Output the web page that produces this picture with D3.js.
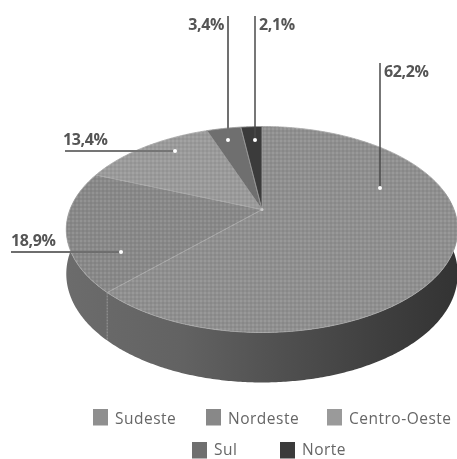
<!DOCTYPE html>
<html><head><meta charset="utf-8">
<script src="https://cdn.jsdelivr.net/npm/d3@7/dist/d3.min.js"></script>
<style>html,body{margin:0;background:#fff}svg{display:block;filter:blur(.75px)}text{font-family:"Open Sans",sans-serif}</style>
</head><body><svg id="c" width="457" height="459"></svg>
<script>
const categories=["Sudeste","Nordeste","Centro-Oeste","Sul","Norte"];
const shares=[62.2,18.9,13.4,3.4,2.1];
const labels=["62,2%","18,9%","13,4%","3,4%","2,1%"];
const colors=["#8f8f8f","#888888","#9a9a9a","#6f6f6f","#3b3b3b"];

const svg=d3.select("#c");
const cx=262,cy=209.5,b=192,a=99.1,k=-0.194;
// perspective projection of the unit disc, angle clockwise from top
const proj=(t,r=1)=>{const u=r*Math.sin(t),v=-r*Math.cos(t),w=1+k*v;return [cx+b*u/w,cy+a*v/w,v];};
const depth=v=>43+7*v;
const arcs=d3.pie().sort(null).value(d=>d)(shares);
const defs=svg.append("defs");
const g=defs.append("linearGradient").attr("id","side").attr("gradientUnits","userSpaceOnUse")
  .attr("x1",66).attr("x2",457).attr("y1",0).attr("y2",0);
[[0,"#6c6c6c"],[.3,"#626262"],[.55,"#505050"],[.8,"#3f3f3f"],[1,"#333"]].forEach(s=>g.append("stop").attr("offset",s[0]).attr("stop-color",s[1]));
const pat=defs.append("pattern").attr("id","tex").attr("width",4).attr("height",4).attr("patternUnits","userSpaceOnUse");
pat.append("circle").attr("cx",1).attr("cy",1).attr("r",.7).attr("fill","#fff").attr("opacity",.25);
pat.append("circle").attr("cx",3).attr("cy",3).attr("r",.7).attr("fill","#000").attr("opacity",.12);

const line=d3.line();
// side wall: front half of the rim
const tf=d3.range(Math.PI*0.44,Math.PI*1.57,0.01);
const topRim=tf.map(t=>proj(t));
const wall=[...topRim.map(p=>[p[0],p[1]]),...topRim.slice().reverse().map(p=>[p[0],p[1]+depth(p[2])])];
svg.append("path").attr("d",line(wall)+"Z").attr("fill","url(#side)");
// boundary edge on the wall
const e=proj(arcs[1].startAngle);
svg.append("line").attr("x1",e[0]).attr("x2",e[0]).attr("y1",e[1]).attr("y2",e[1]+depth(e[2]))
  .attr("stroke","#9a9a9a").attr("stroke-width",1).attr("stroke-dasharray","2 1");

// top face
const slice=d=>{const n=Math.ceil((d.endAngle-d.startAngle)/0.01);
  const pts=d3.range(n+1).map(i=>proj(d.startAngle+(d.endAngle-d.startAngle)*i/n).slice(0,2));
  return line([[cx,cy],...pts])+"Z";};
svg.append("g").selectAll("path").data(arcs).join("path").attr("d",slice)
  .attr("fill",(d,i)=>colors[i]).attr("stroke",(d,i)=>i<3?"#a8a8a8":"#999").attr("stroke-width",.9).attr("stroke-linejoin","round");
svg.append("g").selectAll("path").data(arcs.slice(0,3)).join("path").attr("d",slice).attr("fill","url(#tex)");

// leaders: dot, line end, label anchor
const leaders=[
 {dot:[380,188],end:[380,63],tx:384,ty:77,anchor:"start",stroke:"#4a4a4a",w:1.5},
 {dot:[121,252],end:[11,252],tx:11,ty:246,anchor:"start",stroke:"#6e6e6e",w:2},
 {dot:[175,151],end:[65,151],tx:63,ty:145,anchor:"start",stroke:"#757575",w:2},
 {dot:[228,140],end:[228,16],tx:224,ty:30,anchor:"end",stroke:"#707070",w:2},
 {dot:[255,140],end:[255,16],tx:259,ty:30,anchor:"start",stroke:"#4a4a4a",w:1.5}];
svg.append("g").selectAll("line").data(leaders).join("line")
 .attr("x1",d=>d.dot[0]).attr("y1",d=>d.dot[1]).attr("x2",d=>d.end[0]).attr("y2",d=>d.end[1])
 .attr("stroke",d=>d.stroke).attr("stroke-width",d=>d.w);
svg.append("g").selectAll("circle").data(leaders).join("circle")
 .attr("cx",d=>d.dot[0]).attr("cy",d=>d.dot[1]).attr("r",2).attr("fill","#fff");
svg.append("circle").attr("cx",cx).attr("cy",cy).attr("r",1.5).attr("fill","#ccc");
svg.append("g").selectAll("text").data(labels).join("text")
 .attr("x",(d,i)=>leaders[i].tx).attr("y",(d,i)=>leaders[i].ty)
 .attr("text-anchor",(d,i)=>leaders[i].anchor)
 .attr("font-size",16).attr("font-weight",700).attr("fill","#555").attr("letter-spacing","-.35").text(d=>d);

// legend
const legendPos=[[93,409],[206,409],[327,409],[192,442],[280,442]];
const lg=svg.append("g").selectAll("g").data(categories).join("g").attr("transform",(d,i)=>`translate(${legendPos[i]})`);
lg.append("rect").attr("width",15).attr("height",16.5).attr("fill",(d,i)=>colors[i]);
lg.append("text").attr("x",22).attr("y",(d,i)=>i<3?15:12.5).attr("font-size",15.5).attr("fill","#666").attr("letter-spacing",".5").text(d=>d);
</script></body></html>
